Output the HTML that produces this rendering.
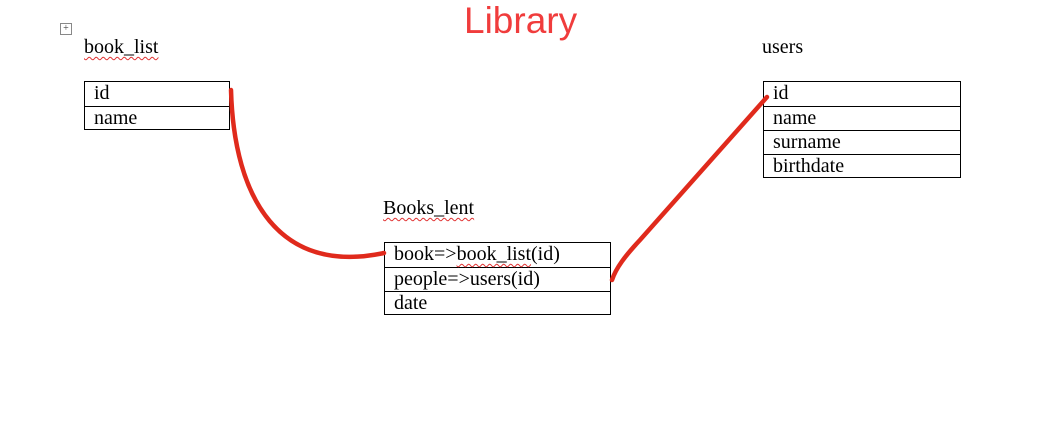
<!DOCTYPE html>
<html><head><style>
body{margin:0;width:1064px;height:422px;background:#fff;position:relative;overflow:hidden;font-family:"Liberation Serif",serif;}
.t{position:absolute;font-size:20px;color:#000;line-height:20px;}
.tbl{position:absolute;border:1px solid #000;box-sizing:border-box;}
.tbl div{height:24px;box-sizing:border-box;border-top:1px solid #000;padding-left:9px;font-size:20px;line-height:22px;}
.tbl div:first-child{border-top:none;}
.u{text-decoration:underline wavy #e03030;text-decoration-thickness:1px;text-underline-offset:3px;}
</style></head><body>
<div style="position:absolute;left:464px;top:-1px;font-family:'Liberation Sans',sans-serif;font-size:37px;color:#f03c3c;line-height:44px;">Library</div>
<div style="position:absolute;left:60px;top:23px;width:10px;height:10px;border:1px solid #888;font-size:10px;line-height:10px;text-align:center;color:#444;">+</div>
<div class="t u" style="left:84px;top:37px;">book_list</div>
<div class="t" style="left:762px;top:37px;">users</div>
<div class="t u" style="left:383px;top:198px;">Books_lent</div>
<div class="tbl" style="left:84px;top:81px;width:146px;height:49px;"><div>id</div><div>name</div></div>
<div class="tbl" style="left:763px;top:81px;width:198px;height:97px;"><div>id</div><div>name</div><div>surname</div><div>birthdate</div></div>
<div class="tbl" style="left:384px;top:242px;width:227px;height:73px;"><div>book=&gt;<span class="u">book_list</span>(id)</div><div>people=&gt;users(id)</div><div>date</div></div>
<svg width="1064" height="422" style="position:absolute;left:0;top:0;">
<path d="M231,90 C234,200 280,275 384,253" fill="none" stroke="#e02a1c" stroke-width="4.5" stroke-linecap="round"/>
<path d="M612,280 C616,268 625,256 640,240 L767,97" fill="none" stroke="#e02a1c" stroke-width="4.5" stroke-linecap="round"/>
</svg>
</body></html>
